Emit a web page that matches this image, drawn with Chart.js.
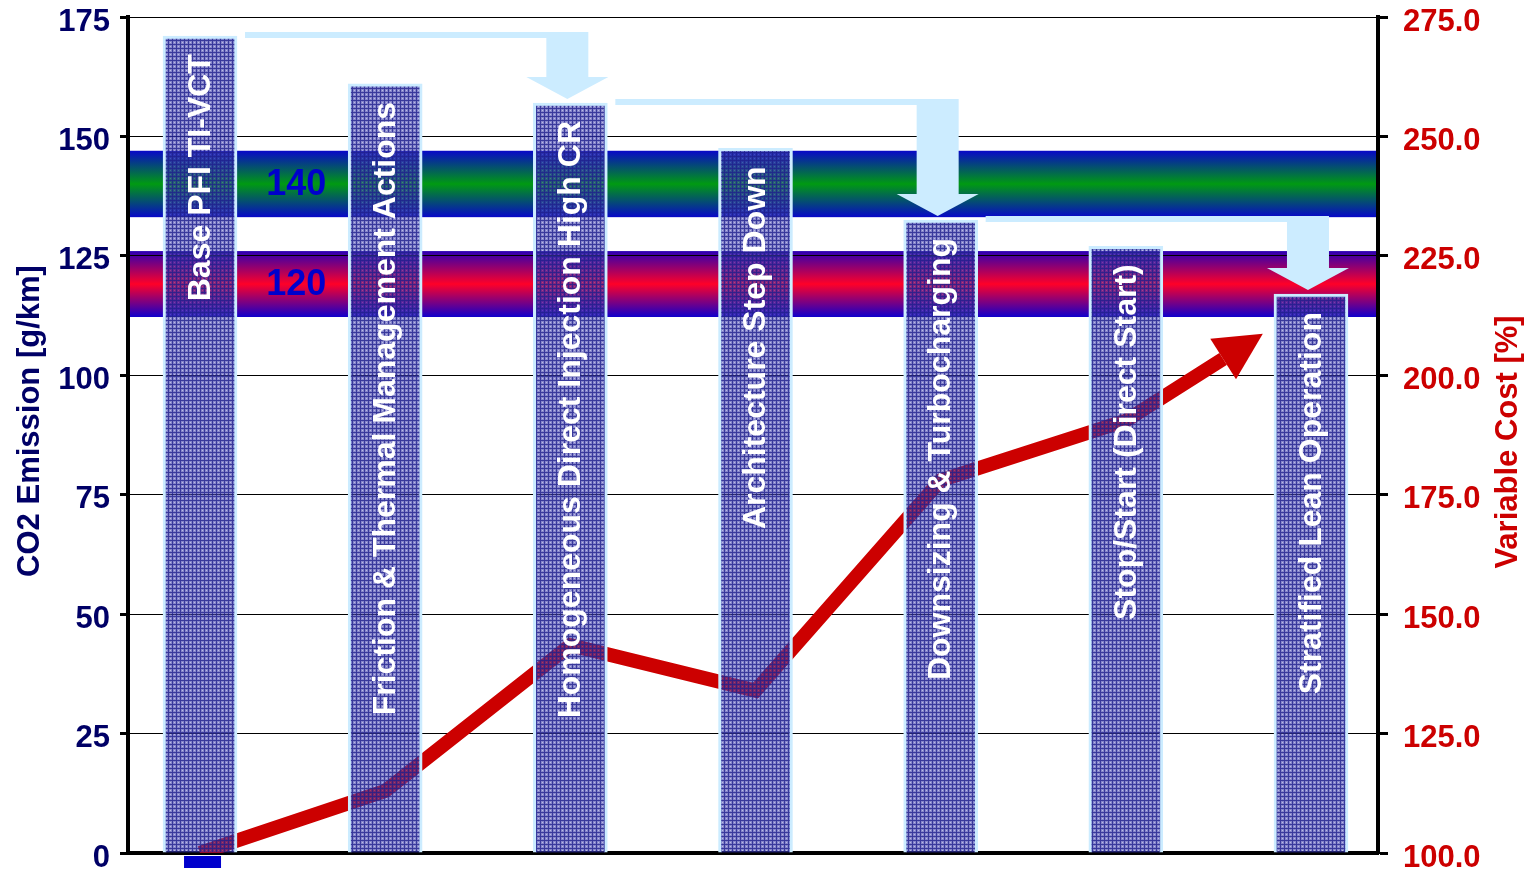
<!DOCTYPE html>
<html>
<head>
<meta charset="utf-8">
<script src="https://cdn.jsdelivr.net/npm/chart.js@4.4.0/dist/chart.umd.min.js"></script>
<style>
  html, body { margin: 0; padding: 0; background: #ffffff; }
  #wrap { width: 1529px; height: 872px; }
</style>
</head>
<body>
<div id="wrap"><canvas id="co2Chart" width="1529" height="872"></canvas></div>
<script>
// technology steps, left to right
const steps = [
    'Base PFI TI-VCT',
    'Friction & Thermal Management Actions',
    'Homogeneous Direct Injection High CR',
    'Architecture Step Down',
    'Downsizing & Turbocharging',
    'Stop/Start (Direct Start)',
    'Stratified Lean Operation'
];
const stepPos = [0, 1, 2, 3, 4, 5, 6];
const co2Values = [171, 161, 157, 147.5, 132.5, 127, 117];

// variable cost curve, last point is the arrow tip
const costPos = [0, 1, 2, 3, 4, 5, 5.74];
const costValues = [100, 113, 143.5, 134, 178, 190.5, 208.7];

// CO2 target bands
const targetLabels = ['140', '120'];
const targetLow = [133.1, 112.2];
const targetHigh = [147, 126];

// step arrows: from bar -> to bar
const arrowFrom = [0, 2, 4];
const arrowTo = [2, 4, 6];

const FONT = 'Liberation Sans, Arial, sans-serif';
const NAVY = '#000066';
const RED = '#CC0000';
const ARROW_BLUE = '#CCECFF';

Chart.defaults.font.family = FONT;

function makeBarPattern() {
    const tile = document.createElement('canvas');
    tile.width = 4;
    tile.height = 4;
    const t = tile.getContext('2d');
    const img = t.createImageData(4, 4);
    const dark = [35, 35, 145, 230];
    const light = [60, 60, 170, 160];
    const dot = [120, 120, 210, 130];
    for (let y = 0; y < 4; y++) {
        for (let x = 0; x < 4; x++) {
            let c = light;
            if (x === 0 || y === 0) c = dark;
            else if (x === 2 && y === 2) c = dot;
            const k = (y * 4 + x) * 4;
            img.data[k] = c[0];
            img.data[k + 1] = c[1];
            img.data[k + 2] = c[2];
            img.data[k + 3] = c[3];
        }
    }
    t.putImageData(img, 0, 0);
    return document.getElementById('co2Chart').getContext('2d').createPattern(tile, 'repeat');
}

// gradient bands behind the grid
const targetBands = {
    id: 'targetBands',
    beforeDraw(chart) {
        const {ctx, chartArea, scales} = chart;
        const stops = [
            ['#0808c8', '#009a12', '#0808c8'],
            ['#2a00b4', '#ff0028', '#1000cc']
        ];
        for (let i = 0; i < targetLow.length; i++) {
            const top = scales.y.getPixelForValue(targetHigh[i]);
            const bottom = scales.y.getPixelForValue(targetLow[i]);
            const g = ctx.createLinearGradient(0, top, 0, bottom);
            g.addColorStop(0, stops[i][0]);
            g.addColorStop(0.5, stops[i][1]);
            g.addColorStop(1, stops[i][2]);
            ctx.fillStyle = g;
            ctx.fillRect(chartArea.left, top, chartArea.right - chartArea.left, bottom - top);

            ctx.save();
            ctx.fillStyle = '#0000CC';
            ctx.font = 'bold 36px ' + FONT;
            ctx.textAlign = 'center';
            ctx.textBaseline = 'middle';
            ctx.fillText(targetLabels[i], scales.x.getPixelForValue(0.52), (top + bottom) / 2 + 1);
            ctx.restore();
        }
    }
};

// red cost line: stop the stroke at the arrow head, then draw the head
const HEAD_LEN = 47;
const HEAD_HALF = 24;
function costArrowGeometry(chart) {
    const pts = chart.getDatasetMeta(1).data;
    const n = pts.length;
    const tip = pts[n - 1];
    const prev = pts[n - 2];
    let dx = tip.x - prev.x;
    let dy = tip.y - prev.y;
    const len = Math.hypot(dx, dy);
    dx /= len;
    dy /= len;
    return {tip, dx, dy, bx: tip.x - dx * HEAD_LEN, by: tip.y - dy * HEAD_LEN};
}
const costArrow = {
    id: 'costArrow',
    beforeDatasetDraw(chart, args) {
        if (args.index !== 1) return;
        const {ctx} = chart;
        const a = costArrowGeometry(chart);
        const nx = -a.dy, ny = a.dx;
        const far = 5000;
        ctx.save();
        ctx.beginPath();
        ctx.moveTo(a.bx + nx * far, a.by + ny * far);
        ctx.lineTo(a.bx - nx * far, a.by - ny * far);
        ctx.lineTo(a.bx - nx * far - a.dx * far, a.by - ny * far - a.dy * far);
        ctx.lineTo(a.bx + nx * far - a.dx * far, a.by + ny * far - a.dy * far);
        ctx.closePath();
        ctx.clip();
    },
    afterDatasetDraw(chart, args) {
        if (args.index !== 1) return;
        const {ctx} = chart;
        ctx.restore();
        const a = costArrowGeometry(chart);
        const nx = -a.dy, ny = a.dx;
        ctx.save();
        ctx.fillStyle = RED;
        ctx.beginPath();
        ctx.moveTo(a.tip.x, a.tip.y);
        ctx.lineTo(a.bx + nx * HEAD_HALF, a.by + ny * HEAD_HALF);
        ctx.lineTo(a.bx - nx * HEAD_HALF, a.by - ny * HEAD_HALF);
        ctx.closePath();
        ctx.fill();
        ctx.restore();
    }
};

// white step names inside the bars, light blue step arrows above them
const barDecor = {
    id: 'barDecor',
    afterDatasetsDraw(chart) {
        const {ctx, scales} = chart;
        const bars = chart.getDatasetMeta(0).data;

        ctx.save();
        ctx.fillStyle = '#ffffff';
        ctx.font = 'bold 32px ' + FONT;
        ctx.textAlign = 'right';
        ctx.textBaseline = 'middle';
        bars.forEach((bar, i) => {
            ctx.save();
            ctx.translate(bar.x + 1, bar.y + 18);
            ctx.rotate(-Math.PI / 2);
            ctx.fillText(steps[i], 0, 0);
            ctx.restore();
        });
        ctx.restore();

        ctx.save();
        ctx.fillStyle = ARROW_BLUE;
        for (let k = 0; k < arrowFrom.length; k++) {
            const src = bars[arrowFrom[k]];
            const dst = bars[arrowTo[k]];
            const x0 = src.x + src.width / 2 + 8;
            const yTop = src.y - 4;
            const thick = 6;
            const cx = dst.x - 3;
            const tipY = dst.y - 4;
            const headTop = tipY - 22;
            ctx.beginPath();
            ctx.moveTo(x0, yTop);
            ctx.lineTo(cx + 21, yTop);
            ctx.lineTo(cx + 21, headTop);
            ctx.lineTo(cx + 41, headTop);
            ctx.lineTo(cx, tipY);
            ctx.lineTo(cx - 41, headTop);
            ctx.lineTo(cx - 21, headTop);
            ctx.lineTo(cx - 21, yTop + thick);
            ctx.lineTo(x0, yTop + thick);
            ctx.closePath();
            ctx.fill();
        }
        ctx.restore();

        // small marker under the first step
        const mx = scales.x.getPixelForValue(stepPos[0]);
        ctx.fillStyle = '#0000CC';
        ctx.fillRect(mx - 16, chart.chartArea.bottom + 3, 37, 12);
    }
};

// axis titles (the right one reads bottom-to-top as well)
const axisTitles = {
    id: 'axisTitles',
    afterDraw(chart) {
        const {ctx} = chart;
        ctx.save();
        ctx.font = 'bold 31px ' + FONT;
        ctx.textAlign = 'center';
        ctx.textBaseline = 'middle';

        ctx.fillStyle = NAVY;
        ctx.translate(30, 421);
        ctx.rotate(-Math.PI / 2);
        ctx.fillText('CO2 Emission [g/km]', 0, 0);
        ctx.restore();

        ctx.save();
        ctx.font = 'bold 31px ' + FONT;
        ctx.textAlign = 'center';
        ctx.textBaseline = 'middle';
        ctx.fillStyle = RED;
        ctx.translate(1508, 442);
        ctx.rotate(-Math.PI / 2);
        ctx.fillText('Variable Cost [%]', 0, 0);
        ctx.restore();
    }
};

// keep the plot area where the layout padding puts it
function fixWidth(w) {
    return function (scale) {
        scale.width = w;
        scale.paddingTop = 0;
        scale.paddingBottom = 0;
    };
}

const barPattern = makeBarPattern();

new Chart(document.getElementById('co2Chart'), {
    type: 'bar',
    data: {
        datasets: [{
            type: 'bar',
            data: stepPos.map((p, i) => ({x: p, y: co2Values[i]})),
            backgroundColor: barPattern,
            borderColor: ARROW_BLUE,
            borderWidth: 3,
            borderSkipped: 'bottom',
            barThickness: 74,
            yAxisID: 'y',
            order: 0
        }, {
            type: 'line',
            data: costPos.map((p, i) => ({x: p, y: costValues[i]})),
            borderColor: RED,
            borderWidth: 14,
            borderJoinStyle: 'miter',
            borderCapStyle: 'butt',
            pointRadius: 0,
            tension: 0,
            fill: false,
            yAxisID: 'y1',
            order: 1
        }]
    },
    options: {
        responsive: false,
        animation: false,
        devicePixelRatio: 1,
        layout: {
            padding: {top: 17, left: 0, right: 0, bottom: 0}
        },
        plugins: {
            legend: {display: false},
            tooltip: {enabled: false}
        },
        scales: {
            x: {
                type: 'linear',
                offset: false,
                min: -0.389,
                max: 6.362,
                ticks: {display: false},
                grid: {display: false},
                border: {display: true, color: '#000', width: 4},
                afterFit: function (scale) {
                    scale.height = 19;
                    scale.paddingLeft = 0;
                    scale.paddingRight = 0;
                }
            },
            y: {
                position: 'left',
                min: 0,
                max: 175,
                ticks: {
                    stepSize: 25,
                    color: NAVY,
                    padding: 10,
                    labelOffset: 5,
                    font: {size: 31, weight: 'bold', lineHeight: 1}
                },
                grid: {
                    color: '#000',
                    lineWidth: 1,
                    tickLength: 8,
                    tickWidth: 3,
                    tickColor: '#000'
                },
                border: {display: true, color: '#000', width: 4},
                afterFit: fixWidth(128)
            },
            y1: {
                position: 'right',
                min: 100,
                max: 275,
                ticks: {
                    stepSize: 25,
                    color: RED,
                    padding: 15,
                    labelOffset: 5,
                    font: {size: 31, weight: 'bold', lineHeight: 1},
                    callback: function (value) {
                        return value.toFixed(1);
                    }
                },
                grid: {
                    drawOnChartArea: false,
                    tickLength: 10,
                    tickWidth: 3,
                    tickColor: '#000'
                },
                border: {display: true, color: '#000', width: 4},
                afterFit: fixWidth(151)
            }
        }
    },
    plugins: [targetBands, costArrow, barDecor, axisTitles]
});
</script>
</body>
</html>
